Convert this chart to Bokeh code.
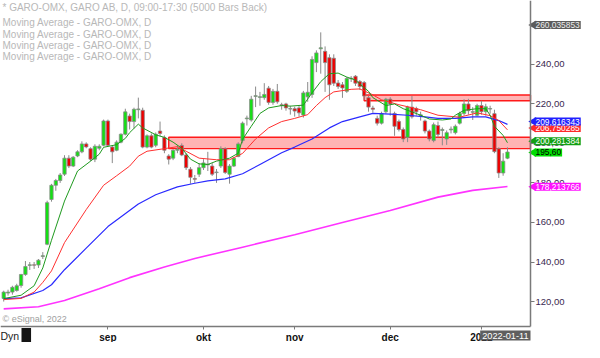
import math
from bokeh.plotting import figure
from bokeh.models import Range1d, FixedTicker, Label, ColumnDataSource, LinearAxis
from bokeh.embed import file_html
from bokeh.resources import INLINE

# ---------------- data ----------------
opens = [121.6, 124.3, 124.8, 125.6, 128.1, 133.7, 138.3, 138.6, 138.5, 142.8,
         149.0, 171.6, 178.8, 181.2, 184.4, 192.5, 188.5, 193.6, 195.7, 199.7,
         197.3, 192.0, 197.5, 199.0, 211.3, 198.1, 196.5, 200.6, 204.6, 213.8,
         211.0, 217.0, 216.7, 198.1, 203.8, 199.0, 206.2, 203.0, 193.6, 192.5,
         196.5, 198.9, 194.1, 186.9, 182.2, 184.4, 187.7, 189.1, 188.5, 185.2,
         188.5, 197.3, 184.4, 188.5, 193.3, 201.4, 212.4, 211.8, 223.7, 223.2,
         223.1, 227.9, 220.7, 226.3, 219.5, 219.9, 217.3, 217.5, 217.9, 214.3,
         223.5, 224.7, 240.8, 247.8, 246.5, 243.3, 243.0, 230.5, 229.6, 226.3,
         232.6, 233.9, 231.2, 230.7, 223.1, 217.8, 212.6, 210.2, 215.9, 222.3,
         215.1, 211.0, 207.0, 203.0, 218.3, 217.5, 214.0, 211.3, 206.2, 201.4,
         209.0, 206.5, 202.2, 206.8, 205.4, 210.2, 215.1, 219.9, 215.7, 214.2,
         219.1, 216.0, 217.3, 215.0, 197.3, 185.0, 192.5]
highs = [125.5, 126.0, 128.0, 129.0, 134.0, 140.5, 140.0, 140.0, 141.5, 145.0,
         171.0, 179.5, 182.0, 185.0, 194.0, 194.0, 193.5, 196.5, 201.0, 200.5,
         198.0, 199.5, 199.5, 212.0, 212.0, 199.0, 201.5, 205.0, 217.5, 215.0,
         218.0, 223.1, 218.0, 204.5, 205.0, 205.5, 211.0, 204.0, 194.5, 197.0,
         199.0, 200.0, 195.0, 188.0, 184.0, 190.0, 192.0, 195.7, 190.0, 187.0,
         198.5, 198.0, 189.5, 193.0, 200.5, 211.0, 214.0, 224.0, 228.7, 226.0,
         230.4, 229.0, 227.5, 230.0, 220.5, 220.5, 219.0, 218.5, 219.0, 226.5,
         231.0, 244.0, 247.0, 256.1, 249.0, 245.0, 245.0, 232.0, 231.0, 233.5,
         234.0, 234.5, 232.0, 231.5, 224.0, 219.0, 214.0, 216.0, 223.0, 223.3,
         216.0, 212.0, 208.0, 219.0, 223.9, 218.5, 216.0, 212.0, 207.0, 210.5,
         211.0, 208.0, 206.5, 208.5, 209.5, 216.0, 222.3, 222.5, 218.3, 220.0,
         221.5, 220.0, 219.0, 217.0, 198.0, 195.0, 198.0]
lows = [120.0, 123.0, 123.5, 125.0, 127.0, 133.0, 136.0, 136.5, 137.0, 141.5,
        148.5, 170.5, 176.0, 180.0, 183.5, 187.5, 188.0, 193.0, 195.0, 197.5,
        191.0, 190.5, 196.5, 198.5, 198.5, 190.0, 196.0, 200.0, 204.0, 207.0,
        207.5, 212.6, 197.5, 197.5, 197.5, 198.0, 203.5, 195.0, 189.3, 191.5,
        195.0, 193.5, 186.5, 179.6, 180.0, 183.0, 186.5, 186.0, 183.5, 180.0,
        187.5, 184.5, 179.6, 188.0, 193.0, 200.0, 209.0, 211.0, 218.3, 219.0,
        222.0, 219.5, 219.5, 220.0, 217.0, 216.5, 214.5, 213.5, 213.5, 213.0,
        221.0, 223.0, 236.0, 235.2, 226.0, 222.0, 229.0, 227.5, 223.0, 225.5,
        231.0, 229.0, 227.0, 222.0, 216.0, 215.5, 209.0, 209.5, 215.0, 214.0,
        203.8, 206.0, 200.6, 200.6, 212.5, 214.0, 211.5, 205.0, 201.0, 200.5,
        203.0, 199.0, 199.2, 205.0, 204.5, 209.5, 214.0, 214.5, 211.8, 213.5,
        214.5, 214.0, 215.0, 195.0, 182.5, 183.6, 192.0]
closes = [124.8, 124.8, 127.2, 128.0, 133.7, 137.7, 138.6, 138.4, 140.9, 143.2,
          170.0, 178.8, 181.2, 184.0, 192.5, 188.5, 193.0, 195.7, 199.7, 198.2,
          192.0, 198.5, 198.5, 211.3, 199.0, 195.7, 200.6, 204.6, 215.9, 211.0,
          217.2, 217.4, 198.1, 203.8, 198.1, 204.6, 205.0, 196.5, 192.0, 196.5,
          197.0, 194.1, 187.7, 182.8, 181.8, 187.7, 190.1, 189.5, 184.4, 185.5,
          197.3, 185.3, 188.5, 192.5, 199.7, 210.2, 212.8, 222.3, 224.1, 223.6,
          224.7, 220.7, 226.3, 221.0, 219.1, 217.9, 217.6, 216.3, 215.4, 225.5,
          225.8, 242.4, 245.7, 248.3, 240.8, 229.6, 230.4, 228.7, 228.0, 232.8,
          232.9, 230.4, 228.7, 223.9, 218.3, 217.2, 210.2, 215.1, 222.3, 219.9,
          208.6, 207.0, 202.2, 218.3, 213.4, 215.9, 214.4, 206.2, 202.2, 209.4,
          204.5, 207.0, 205.4, 207.2, 208.6, 215.1, 219.9, 216.5, 216.0, 219.1,
          216.0, 218.5, 217.6, 195.8, 185.0, 191.0, 195.6]

# moving averages at sample bars
ma_fast_bar = [0, 4, 7, 9, 11, 14, 17, 20, 22, 23, 26, 28, 29, 31, 32, 35, 37, 39, 41, 43,
               45, 47, 49, 52, 54, 55, 57, 59, 61, 64, 66, 69, 71, 73, 75, 77, 79, 81, 82, 84,
               85, 88, 90, 92, 94, 96, 98, 101, 103, 104, 106, 109, 111, 112, 113, 115, 116]
ma_fast_val = [121.5, 123.2, 128.0, 137.0, 151.0, 170.8, 186.0, 191.0, 194.5, 198.0,
               199.3, 202.5, 205.4, 209.7, 207.8, 204.3, 203.0, 200.6, 197.5, 192.0,
               189.6, 189.3, 191.0, 192.5, 195.0, 202.0, 208.6, 215.1, 217.9, 219.1,
               218.8, 219.3, 225.5, 231.2, 235.2, 235.5, 233.5, 232.0, 230.0, 226.3,
               223.1, 219.1, 219.9, 217.5, 215.9, 214.2, 212.3, 211.8, 212.3, 214.2,
               216.7, 217.5, 217.5, 214.2, 208.6, 204.0, 200.3]
ma_mid_bar = [0, 4, 7, 9, 11, 14, 19, 23, 26, 29, 31, 33, 37, 40, 42, 45, 49, 52, 55, 58,
              61, 64, 67, 70, 72, 74, 76, 80, 82, 85, 87, 91, 96, 100, 105, 109, 112, 114, 116]
ma_mid_val = [121.0, 121.6, 124.8, 129.7, 135.5, 149.8, 166.5, 178.8, 183.6, 188.5,
              193.5, 196.0, 197.3, 198.3, 196.0, 192.5, 191.7, 191.7, 194.9, 202.2,
              207.8, 211.0, 212.6, 214.5, 219.1, 223.1, 226.0, 227.3, 227.5, 224.5,
              222.0, 219.5, 217.0, 214.2, 213.2, 215.4, 214.0, 211.5, 206.8]
ma_slow_bar = [0, 4, 9, 11, 14, 19, 24, 31, 35, 40, 44, 47, 51, 55, 59, 64, 67, 71, 75, 78,
               82, 85, 89, 93, 97, 100, 104, 108, 111, 114, 116]
ma_slow_val = [121.5, 121.9, 125.6, 128.5, 136.1, 147.0, 157.9, 169.3, 174.0, 178.0,
               179.8, 181.0, 182.0, 184.6, 189.3, 195.2, 198.1, 202.2, 207.8, 211.0,
               213.4, 215.1, 214.8, 214.2, 213.4, 212.6, 212.6, 213.4, 213.4, 211.5, 209.6]
ma_long_bar = [0, 8, 14, 22, 29, 37, 44, 55, 67, 78, 89, 100, 108, 116]
ma_long_val = [116.3, 117.4, 120.5, 126.5, 132.1, 137.5, 141.8, 147.5, 153.8, 160.0,
               166.0, 172.8, 176.2, 178.2]

# support / resistance zones
zone_start = [38, 83]
zone_low = [197.3, 221.5]
zone_high = [203.1, 224.4]

price_ticks = [120, 140, 160, 180, 200, 220, 240]
price_tick_labels = ["120,00", "140,00", "160,00", "180,00", "200,00", "220,00", "240,00"]
month_ticks = [24, 46, 67, 89, 110]
month_labels = ["sep", "okt", "nov", "dec", "2022"]

# right-hand value markers
marker_text = ["260,035853", "206,750285", "209,616343", "200,281384", "195,60", "178,213766"]
marker_price = [259.8, 207.8, 211.0, 201.1, 195.4, 178.0]
marker_fill = ["#5c5c5c", "#ff2a2a", "#2020ff", "#13a013", "#00dd00", "#ff10ff"]
marker_textcol = ["#eeeeee", "#ffffff", "#ffffff", "#ffffff", "#000000", "#ffffff"]

legend_lines = ["* GARO-OMX, GARO AB, D, 09:00-17:30 (5000 Bars Back)",
                "Moving Average - GARO-OMX, D",
                "Moving Average - GARO-OMX, D",
                "Moving Average - GARO-OMX, D",
                "Moving Average - GARO-OMX, D"]

# ---------------- layout ----------------
W, H = 584, 342
AX_PX, AY_PX = 530, 326          # where the price axis / time axis lines sit
X0, XA = -0.74, 121.3            # data x at left edge / at price axis line
Y1, YA = 272.2, 107.4            # data y at top edge / at time axis line
sx = AX_PX / (XA - X0)           # px per bar
sy = AY_PX / (Y1 - YA)           # px per price unit
XE = X0 + W / sx
YE = YA - (H - AY_PX) / sy
FONT = "Liberation Sans"

p = figure(width=W, height=H, x_range=Range1d(X0, XE), y_range=Range1d(YE, Y1),
           x_axis_location=None, y_axis_location=None,
           output_backend="svg", toolbar_location=None,
           min_border_left=0, min_border_top=0, min_border_right=0, min_border_bottom=0)
p.xgrid.visible = False
p.ygrid.visible = False
p.outline_line_color = None
p.background_fill_color = "white"
p.border_fill_color = "white"

# zones
p.quad(left=zone_start, right=[XA] * len(zone_start), bottom=zone_low, top=zone_high,
       fill_color="#ffb4b4", line_color="#ff1a1a", line_width=1.4)

# candles
idx = list(range(len(opens)))
up = "#14e014"
dn = "#ee0000"
src = ColumnDataSource(dict(
    x=idx, o=opens, h=highs, l=lows, c=closes,
    top=[max(o, c) for o, c in zip(opens, closes)],
    bot=[min(o, c) for o, c in zip(opens, closes)],
    col=[up if c >= o else dn for o, c in zip(opens, closes)],
))
p.segment(x0="x", y0="l", x1="x", y1="h", source=src, line_color="#8a8a8a", line_width=1)
p.vbar(x="x", width=0.76, top="top", bottom="bot", source=src,
       fill_color="col", line_color="#8a8a8a", line_width=0.8)

# moving averages
p.line(ma_long_bar, ma_long_val, line_color="#ff33ff", line_width=1.6)
p.line(ma_slow_bar, ma_slow_val, line_color="#2a2aff", line_width=1.2)
p.line(ma_mid_bar, ma_mid_val, line_color="#ff3030", line_width=1.0)
p.line(ma_fast_bar, ma_fast_val, line_color="#1f9a1f", line_width=1.0)

# axes placed at fixed positions inside the canvas
ya = LinearAxis(fixed_location=XA, bounds=(YA, Y1))
ya.ticker = FixedTicker(ticks=price_ticks)
ya.major_label_overrides = {t: s for t, s in zip(price_ticks, price_tick_labels)}
ya.axis_line_color = "#7a7a7a"
ya.axis_line_width = 1.5
ya.major_tick_line_color = "#7a7a7a"
ya.major_tick_out = 4
ya.major_tick_in = 0
ya.minor_tick_line_color = None
ya.major_label_standoff = 1
ya.major_label_text_font = FONT
ya.major_label_text_font_size = "9.5px"
ya.major_label_text_color = "#3a2850"
p.add_layout(ya, "right")

xa = LinearAxis(fixed_location=YA, bounds=(X0, XA))
xa.ticker = FixedTicker(ticks=month_ticks)
xa.major_label_overrides = {t: s for t, s in zip(month_ticks, month_labels)}
xa.axis_line_color = "#7a7a7a"
xa.axis_line_width = 1.5
xa.major_tick_line_color = "#7a7a7a"
xa.major_tick_out = 3
xa.major_tick_in = 0
xa.minor_tick_line_color = None
xa.major_label_standoff = 2
xa.major_label_text_font = FONT
xa.major_label_text_font_size = "10px"
xa.major_label_text_font_style = "bold"
xa.major_label_text_color = "#111111"
p.add_layout(xa, "below")

# legend texts (top-left)
rows_px = [6.5, 22.0, 33.5, 44.5, 55.5]
for txt, r in zip(legend_lines, rows_px):
    p.add_layout(Label(x=X0 + 2 / sx, y=Y1 - r / sy, text=txt, text_font=FONT,
                       text_font_size="10px", text_color="#b8b8b8",
                       text_align="left", text_baseline="middle"))

p.add_layout(Label(x=X0 + 2 / sx, y=Y1 - 318 / sy, text="\u00a9 eSignal, 2022",
                   text_font=FONT, text_font_size="9px", text_color="#a0a0a0",
                   text_align="left", text_baseline="middle"))

# right markers: pointer + box
p.scatter(x=[XA + 3 / sx] * len(marker_price), y=marker_price, marker="triangle",
          angle=math.pi / 2, size=9, fill_color=marker_fill, line_color=None)
for t, pr, f, tc in zip(marker_text, marker_price, marker_fill, marker_textcol):
    p.add_layout(Label(x=XA + 4 / sx, y=pr, text=t, text_font=FONT,
                       text_font_size="8.4px", text_color=tc, text_align="left",
                       text_baseline="middle", background_fill_color=f,
                       border_line_color=None, padding=1))

# bottom date box and Dyn
yb = YA - 9 / sy
p.add_layout(Label(x=XA, y=yb, text="2022-01-11", text_font=FONT,
                   text_font_size="9.2px", text_color="#ffffff", text_align="right",
                   text_baseline="middle", background_fill_color="#5f5f5f", padding=2))
p.add_layout(Label(x=X0, y=yb, text="Dyn", text_font=FONT,
                   text_font_size="10.5px", text_color="#222222", text_align="left",
                   text_baseline="middle"))
p.add_layout(Label(x=X0 + 21 / sx, y=yb, text="\u00a0\u00a0", text_font=FONT,
                   text_font_size="10px", text_color="#111111", text_align="left",
                   text_baseline="middle", background_fill_color="#151515", padding=2))

open("out.html", "w").write(file_html(p, INLINE))
